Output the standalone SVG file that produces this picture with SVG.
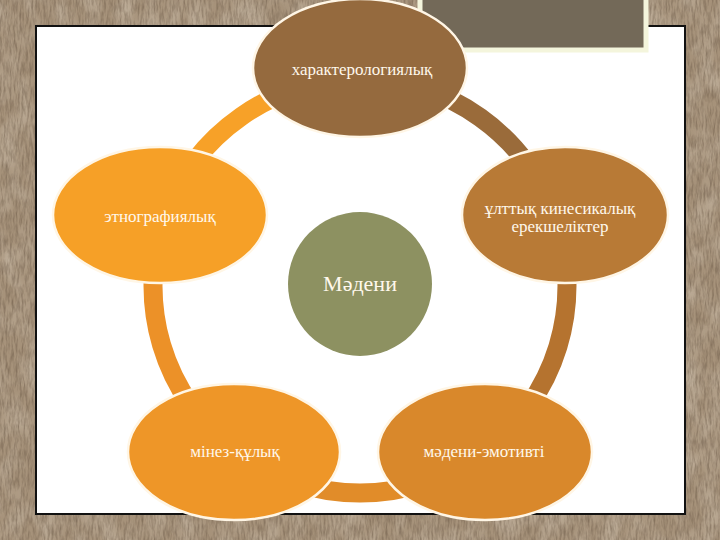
<svg xmlns="http://www.w3.org/2000/svg" width="720" height="540" viewBox="0 0 720 540">
  <defs>
    <filter id="stone" x="0" y="0" width="1" height="1" color-interpolation-filters="sRGB">
      <feTurbulence type="fractalNoise" baseFrequency="0.5 0.08" numOctaves="3" seed="7" result="n"/>
      <feColorMatrix in="n" type="matrix" values="0 0 0 0 0.40  0 0 0 0 0.33  0 0 0 0 0.26  1.1 0 0 0 -0.42" result="dark"/>
      <feTurbulence type="fractalNoise" baseFrequency="0.05 0.03" numOctaves="2" seed="21" result="n2"/>
      <feColorMatrix in="n2" type="matrix" values="0 0 0 0 0.82  0 0 0 0 0.77  0 0 0 0 0.70  1.2 0 0 0 -0.45" result="light"/>
      <feMerge>
        <feMergeNode in="light"/>
        <feMergeNode in="dark"/>
      </feMerge>
    </filter>
    <style>
      .ring { fill: none; stroke-width: 19; stroke-linecap: butt; }
      .node { stroke: #FFF6E6; stroke-width: 2.5; }
      .lbl { font-family: "Liberation Serif", "DejaVu Serif", serif; font-size: 17px; fill: #FFF8EC; text-anchor: middle; }
    </style>
  </defs>

  <!-- background -->
  <rect x="0" y="0" width="720" height="540" fill="#A6927A"/>
  <rect x="0" y="0" width="720" height="540" fill="#A6927A" filter="url(#stone)"/>

  <!-- slide panel -->
  <rect x="36" y="26" width="649" height="488" fill="#FFFFFF" stroke="#111" stroke-width="2"/>
  <!-- title box -->
  <rect x="420" y="-5" width="226" height="55" fill="#736958" stroke="#F4F5DC" stroke-width="5"/>

  <!-- connectors (ring) -->
  <g id="connectors">
    <path class="ring" stroke="#9A6B3A" d="M 360 79 A 207 207 0 0 1 555.7 218.6"/>
    <path class="ring" stroke="#B5732F" d="M 555.7 218.6 A 207 207 0 0 1 484.6 451.3"/>
    <path class="ring" stroke="#E18C29" d="M 484.6 451.3 A 207 207 0 0 1 235.4 451.3"/>
    <path class="ring" stroke="#EC9128" d="M 235.4 451.3 A 207 207 0 0 1 165.5 215.2"/>
    <path class="ring" stroke="#F7A128" d="M 165.5 215.2 A 207 207 0 0 1 360 79"/>
  </g>

  <g id="node-top">
    <ellipse class="node" cx="360" cy="68" rx="107" ry="69" fill="#956A3E"/>
    <text class="lbl" x="362" y="75">характерологиялық</text>
  </g>

  <g id="node-right">
    <ellipse class="node" cx="565" cy="215" rx="103" ry="68" fill="#B87A36"/>
    <text class="lbl" x="560" y="214">ұлттық кинесикалық</text>
    <text class="lbl" x="560" y="232">ерекшеліктер</text>
  </g>

  <g id="node-left">
    <ellipse class="node" cx="160" cy="215" rx="107" ry="68" fill="#F6A027"/>
    <text class="lbl" x="160" y="222">этнографиялық</text>
  </g>

  <g id="node-bottom-left">
    <ellipse class="node" cx="234" cy="452" rx="106" ry="68" fill="#EE9628"/>
    <text class="lbl" x="235" y="457">мінез-құлық</text>
  </g>

  <g id="node-bottom-right">
    <ellipse class="node" cx="485" cy="452" rx="107" ry="68" fill="#D9882B"/>
    <text class="lbl" x="484" y="457">мәдени-эмотивті</text>
  </g>

  <g id="node-center">
    <circle cx="360" cy="284" r="72" fill="#8D9161"/>
    <text class="lbl" x="360" y="291" style="font-size:22px">Мәдени</text>
  </g>
</svg>
